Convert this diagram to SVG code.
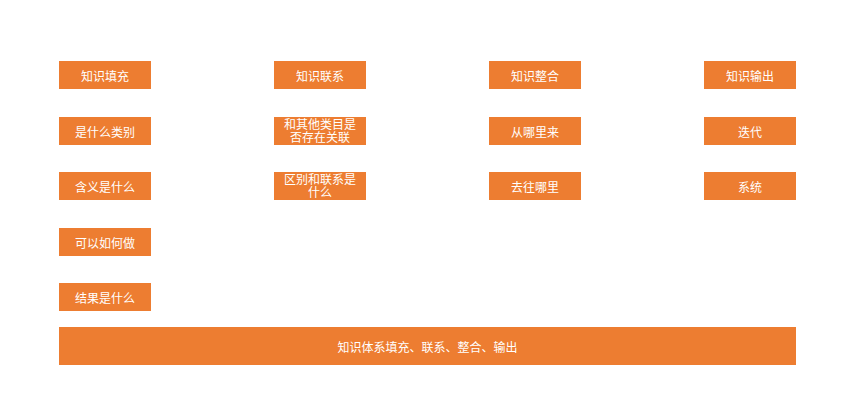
<svg xmlns="http://www.w3.org/2000/svg" width="867" height="420" viewBox="0 0 867 420">
<style>
.b{fill:#ED7D31}
.t{fill:#FFFFFF;font-family:"Microsoft YaHei","Noto Sans CJK SC",sans-serif;font-size:12px;text-anchor:middle;dominant-baseline:central}
.m{fill:#FFFFFF;font-family:"Microsoft YaHei","Noto Sans CJK SC",sans-serif;font-size:12px;text-anchor:middle}
</style>
<rect width="867" height="420" fill="#FFFFFF"/>
<g id="n1"><rect class="b" x="59" y="61" width="92" height="28"/><text class="t" x="105" y="75">知识填充</text></g>
<g id="n2"><rect class="b" x="274" y="61" width="92" height="28"/><text class="t" x="320" y="75">知识联系</text></g>
<g id="n3"><rect class="b" x="489" y="61" width="92" height="28"/><text class="t" x="535" y="75">知识整合</text></g>
<g id="n4"><rect class="b" x="704" y="61" width="92" height="28"/><text class="t" x="750" y="75">知识输出</text></g>
<g id="n5"><rect class="b" x="59" y="117" width="92" height="28"/><text class="t" x="105" y="131">是什么类别</text></g>
<g id="n6"><rect class="b" x="274" y="117" width="92" height="28"/><text class="m" x="320" y="129"><tspan x="320" y="129">和其他类目是</tspan><tspan x="320" y="141.5">否存在关联</tspan></text></g>
<g id="n7"><rect class="b" x="489" y="117" width="92" height="28"/><text class="t" x="535" y="131">从哪里来</text></g>
<g id="n8"><rect class="b" x="704" y="117" width="92" height="28"/><text class="t" x="750" y="131">迭代</text></g>
<g id="n9"><rect class="b" x="59" y="172" width="92" height="28"/><text class="t" x="105" y="186">含义是什么</text></g>
<g id="n10"><rect class="b" x="274" y="172" width="92" height="28"/><text class="m" x="320" y="184"><tspan x="320" y="184">区别和联系是</tspan><tspan x="320" y="196.5">什么</tspan></text></g>
<g id="n11"><rect class="b" x="489" y="172" width="92" height="28"/><text class="t" x="535" y="186">去往哪里</text></g>
<g id="n12"><rect class="b" x="704" y="172" width="92" height="28"/><text class="t" x="750" y="186">系统</text></g>
<g id="n13"><rect class="b" x="59" y="228" width="92" height="28"/><text class="t" x="105" y="242">可以如何做</text></g>
<g id="n14"><rect class="b" x="59" y="283" width="92" height="28"/><text class="t" x="105" y="297">结果是什么</text></g>
<g id="n15"><rect class="b" x="59" y="327" width="737" height="38"/><text class="t" x="427.5" y="346">知识体系填充、联系、整合、输出</text></g>
<g id="connectors"></g>
</svg>
